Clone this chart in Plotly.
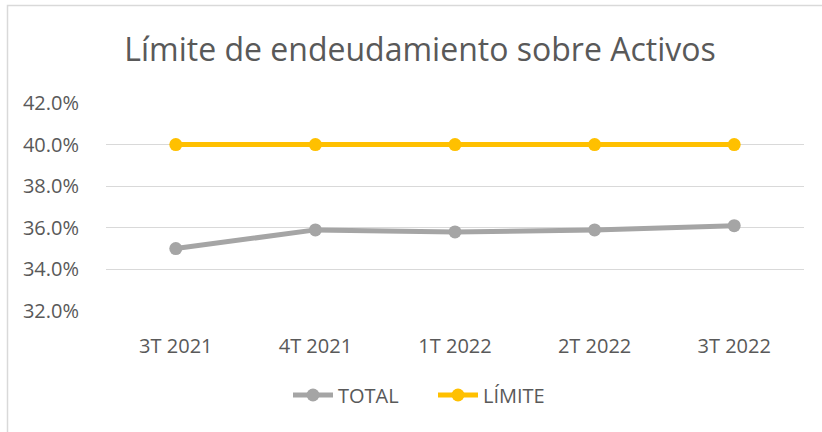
import plotly.graph_objects as go

categories = ["3T 2021", "4T 2021", "1T 2022", "2T 2022", "3T 2022"]
total = [0.350, 0.359, 0.358, 0.359, 0.361]
limite = [0.40, 0.40, 0.40, 0.40, 0.40]
y_ticks = [0.32, 0.34, 0.36, 0.38, 0.40, 0.42]

W, H = 822, 432
L, R, T, B = 106, 18, 103, 121
pw, ph = W - L - R, H - T - B

def px_x(p):
    return (p - L) / pw

def px_y(p):
    return (H - B - p) / ph

font_family = "Open Sans, Liberation Sans, sans-serif"
txt = "#595959"
fs = 20

fig = go.Figure()
fig.add_trace(go.Scatter(x=categories, y=total, name="TOTAL", mode="lines+markers",
                         line=dict(color="#A5A5A5", width=5),
                         marker=dict(color="#A5A5A5", size=13)))
fig.add_trace(go.Scatter(x=categories, y=limite, name="LÍMITE", mode="lines+markers",
                         line=dict(color="#FFC000", width=5),
                         marker=dict(color="#FFC000", size=13)))

fig.update_layout(
    width=W, height=H,
    margin=dict(l=L, r=R, t=T, b=B),
    paper_bgcolor="white", plot_bgcolor="white",
    font=dict(family=font_family, color=txt, size=fs),
    title=dict(text="Límite de endeudamiento sobre Activos", x=420 / W, xref="container",
               xanchor="center", y=1 - 50 / H, yref="container", yanchor="middle",
               font=dict(size=32, color=txt, family=font_family)),
    showlegend=True,
    legend=dict(orientation="h", x=px_x(433), xanchor="center", y=px_y(395), yanchor="middle",
                font=dict(size=fs, color=txt), itemwidth=40, entrywidth=90),
    xaxis=dict(range=[-0.5, 4.5], showgrid=False, showline=False, zeroline=False,
               ticks="outside", ticklen=17,
               tickcolor="rgba(0,0,0,0)", tickfont=dict(size=fs, color=txt)),
    yaxis=dict(range=[0.32, 0.42], tickvals=y_ticks, tickformat=".1%", showgrid=True,
               gridcolor="#D9D9D9", gridwidth=1, zeroline=False, showline=False,
               ticks="outside", ticklen=22, tickcolor="rgba(0,0,0,0)",
               tickfont=dict(size=fs, color=txt)),
    shapes=[dict(type="rect", xref="paper", yref="paper",
                 x0=px_x(7.5), x1=px_x(840), y0=px_y(450), y1=px_y(5.5),
                 line=dict(color="#D9D9D9", width=1.5), layer="below")],
)

fig.write_html("out.html", config={"displayModeBar": False},
               post_script="document.body.style.margin='0';document.body.style.overflow='hidden';")
